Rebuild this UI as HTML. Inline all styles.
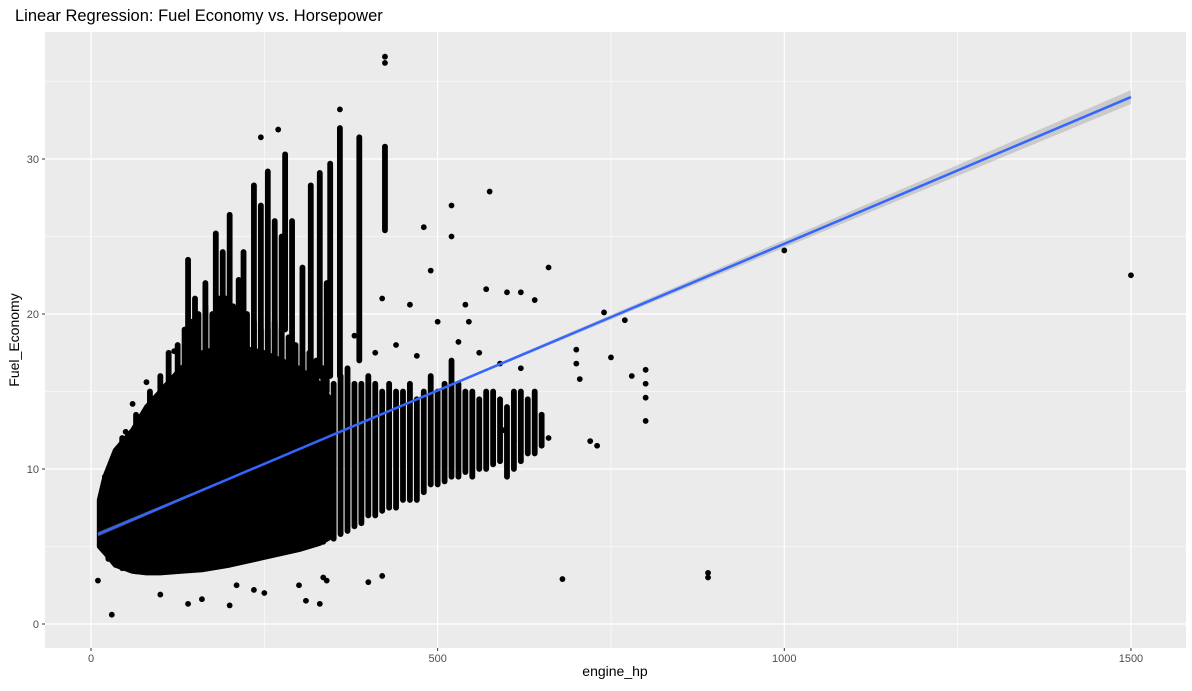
<!DOCTYPE html>
<html><head><meta charset="utf-8"><style>
body{margin:0;background:#fff;width:1192px;height:686px;overflow:hidden;font-family:"Liberation Sans",sans-serif}
</style></head><body>
<svg id="chart" width="1192" height="686" xmlns="http://www.w3.org/2000/svg" font-family="Liberation Sans, sans-serif">
<text x="15" y="21" font-size="16.5" fill="#000">Linear Regression: Fuel Economy vs. Horsepower</text>
<rect x="45" y="32" width="1141" height="616" fill="#EBEBEB"/>
<g id="grid"></g>
<g id="ticks"></g>
<g id="cloud"></g>
<g id="fit"></g>
<text x="615" y="676" font-size="14" text-anchor="middle" fill="#000">engine_hp</text>
<text transform="translate(19,340) rotate(-90)" font-size="14" text-anchor="middle" fill="#000">Fuel_Economy</text>
</svg>
<script>
const xTicks=[0,500,1000,1500];
const xMinor=[250,750,1250];
const yTicks=[0,10,20,30];
const yMinor=[5,15,25,35];
// dense core envelope
const coreHp=[12,20,35,60,80,100,130,160,200,250,300,330,345,350];
const coreLo=[5.0,4.6,3.8,3.4,3.3,3.3,3.4,3.5,3.8,4.3,4.8,5.2,5.6,6.5];
const coreHi=[8.0,9.5,11.2,12.5,14,15,16.5,17.5,18,17.5,16.5,15.5,14.5,12];
// vertical stacks: hp, low, high
const stackHp=[
 25,45,65,85,100,112,125,135,145,155,165,175,185,195,205,215,225,235,245,255,265,275,285,295,305,315,325,335,
 150,165,180,200,213,235,255,275,280,317,330,345,359,387,424,
 140,190,220,245,265,290,305,340,
 350,360,370,380,390,400,410,420,430,440,450,460,470,480,490,500,510,520,530,540,550,560,570,580,590,600,610,620,630,640,650];
const stackLo=[
 4.2,3.6,3.4,3.4,3.4,3.5,3.5,3.6,3.6,3.7,3.8,3.9,4.0,4.0,4.1,4.2,4.3,4.4,4.5,4.6,4.7,4.8,4.9,5.0,5.0,5.1,5.2,5.3,
 15,15,16,16,17,17,16,16,19,16,16,16,16,17,25.4,
 15,16,16,17,17,16,16,15,
 5.5,5.8,6.0,6.3,6.5,7.0,7.0,7.3,7.5,7.5,8.0,8.0,8.0,8.5,9.0,9.0,9.2,9.5,9.5,9.8,9.5,10,10,10.3,10.5,9.5,10,10.5,11,11,11.5];
const stackHi=[
 9.5,12,13.5,15,16,17.5,18,19,19.5,20,20.5,20,21,21,20.5,20,20,19.5,19,19,19.5,19,18.5,18,17.5,17.5,17,16.5,
 21,22,25.2,26.4,22.2,28.3,29.2,25,30.3,28.3,29.1,29.7,32,31.4,30.8,
 23.5,24,24,27,26,26,23,22,
 15.5,16,16.5,15.5,15.5,16,15.5,15,15.5,15,15,15.5,14.5,15,16,15,15.5,17,15.5,15,15,14.5,15,15,14.5,14,15,15,14.5,15,13.5];
// individual points
const ptHp=[1500,1000,890,890,680,740,770,800,800,800,800,780,750,700,700,705,720,730,660,600,620,640,570,575,520,520,480,490,540,545,460,420,424,424,359,270,245,30,10,100,140,160,200,210,235,250,300,310,330,335,340,400,420,650,660,610,595,60,80,120,20,50,380,410,440,470,500,530,560,590,620];
const ptY=[22.5,24.1,3.3,3.0,2.9,20.1,19.6,16.4,15.5,14.6,13.1,16.0,17.2,17.7,16.8,15.8,11.8,11.5,23.0,21.4,21.4,20.9,21.6,27.9,27.0,25.0,25.6,22.8,20.6,19.5,20.6,21,36.2,36.6,33.2,31.9,31.4,0.6,2.8,1.9,1.3,1.6,1.2,2.5,2.2,2.0,2.5,1.5,1.3,3.0,2.8,2.7,3.1,13.5,12,11.8,12.5,14.2,15.6,17.6,9.5,12.4,18.6,17.5,18.0,17.3,19.5,18.2,17.5,16.8,16.5];
// fit
const fitA=5.6, fitB=0.01893;
const seHp=[10,250,500,750,1000,1250,1500];
const seW=[0.15,0.05,0.08,0.15,0.25,0.35,0.45];

const X=v=>91+v*0.6933, Y=v=>624-v*15.5;
const NS='http://www.w3.org/2000/svg';
function mk(tag,attrs,parent){const e=document.createElementNS(NS,tag);for(const k in attrs)e.setAttribute(k,attrs[k]);parent.appendChild(e);return e;}
const grid=document.getElementById('grid'),ticks=document.getElementById('ticks'),cloud=document.getElementById('cloud'),fit=document.getElementById('fit');
xMinor.forEach(v=>{const l=mk('line',{x1:X(v),x2:X(v),y1:32,y2:648,stroke:'#fff','stroke-width':0.6},grid);

});
yMinor.forEach(v=>{const l=mk('line',{x1:45,x2:1186,y1:Y(v),y2:Y(v),stroke:'#fff','stroke-width':0.6},grid);

});
xTicks.forEach(v=>{const l=mk('line',{x1:X(v),x2:X(v),y1:32,y2:648,stroke:'#fff','stroke-width':1.2},grid);


mk('line',{x1:X(v),x2:X(v),y1:648,y2:651,stroke:'#333','stroke-width':1},ticks);
const t=mk('text',{x:X(v),y:662,'font-size':11,'text-anchor':'middle',fill:'#4D4D4D'},ticks);t.textContent=v;

});
yTicks.forEach(v=>{const l=mk('line',{x1:45,x2:1186,y1:Y(v),y2:Y(v),stroke:'#fff','stroke-width':1.2},grid);


mk('line',{x1:42,x2:45,y1:Y(v),y2:Y(v),stroke:'#333','stroke-width':1},ticks);
const t=mk('text',{x:39,y:Y(v)+4,'font-size':11,'text-anchor':'end',fill:'#4D4D4D'},ticks);t.textContent=v;

});
// core
let d='M'+coreHp.map((h,i)=>X(h)+','+Y(coreHi[i])).join('L')+'L'+coreHp.slice().reverse().map((h,i)=>X(h)+','+Y(coreLo[coreLo.length-1-i])).join('L')+'Z';
const core=mk('path',{d:d,fill:'#000',stroke:'#000','stroke-width':5,'stroke-linejoin':'round'},cloud);


stackHp.forEach((h,i)=>{const l=mk('line',{x1:X(h),x2:X(h),y1:Y(stackLo[i]),y2:Y(stackHi[i]),stroke:'#000','stroke-width':5.8,'stroke-linecap':'round'},cloud);

});
ptHp.forEach((h,i)=>{const c=mk('circle',{cx:X(h),cy:Y(ptY[i]),r:2.9,fill:'#000'},cloud);

});
// band
const f=h=>fitA+fitB*h;
let bd='M'+seHp.map((h,i)=>X(h)+','+Y(f(h)+seW[i])).join('L')+'L'+seHp.slice().reverse().map((h,i)=>X(h)+','+Y(f(h)-seW[seW.length-1-i])).join('L')+'Z';
const band=mk('path',{d:bd,fill:'#999','fill-opacity':0.4},fit);


const ln=mk('line',{x1:X(10),y1:Y(f(10)),x2:X(1500),y2:Y(f(1500)),stroke:'#3366FF','stroke-width':2.5},fit);


</script>
</body></html>
